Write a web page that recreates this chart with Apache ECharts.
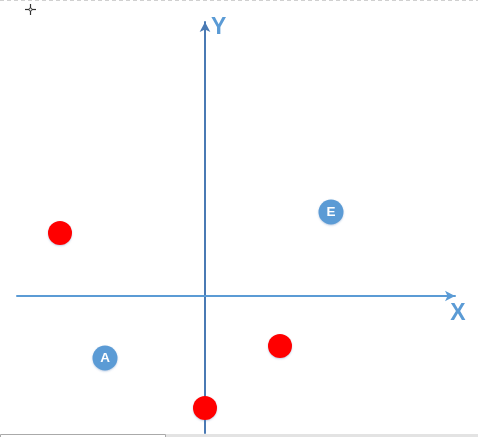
<!DOCTYPE html>
<html>
<head>
<meta charset="utf-8">
<script src="https://cdn.jsdelivr.net/npm/echarts@6/dist/echarts.min.js"></script>
<style>
html,body{margin:0;padding:0;background:#fff;}
#c{width:478px;height:437px;}
</style>
</head>
<body>
<div id="c"></div>
<script>
// Data (units relative to the axis origin)
const redPoints = [[-14.5, 6.3], [7.5, -5.0], [0, -11.2]];
const labelNames = ['A', 'E'];
const labelPoints = [[-10.0, -6.2], [12.6, 8.4]];
const xRange = [-18.8, 25];
const yRange = [-13.7, 27.4];

const chart = echarts.init(document.getElementById('c'), null, {renderer: 'canvas'});
const blueData = labelPoints.map((p, i) => ({name: labelNames[i], value: p}));
chart.setOption({
  animation: false,
  backgroundColor: '#ffffff',
  grid: {left: 17, right: 23, top: 22, bottom: 4},
  xAxis: {
    type: 'value', min: xRange[0], max: xRange[1],
    axisLine: {onZero: true, lineStyle: {color: '#5b9bd5', width: 2}, symbol: ['none', 'arrow'], symbolSize: [8, 10]},
    axisTick: {show: false}, axisLabel: {show: false}, splitLine: {show: false},
    name: 'X', nameLocation: 'end', nameGap: 3,
    nameTextStyle: {color: '#5b9bd5', fontSize: 23, fontWeight: 'bold', fontFamily: 'Liberation Sans, Arial, sans-serif', align: 'center', verticalAlign: 'top', padding: [6, 0, 0, 0]}
  },
  yAxis: {
    type: 'value', min: yRange[0], max: yRange[1],
    axisLine: {onZero: true, lineStyle: {color: '#4a7ab4', width: 2}, symbol: ['none', 'arrow'], symbolSize: [8, 10]},
    axisTick: {show: false}, axisLabel: {show: false}, splitLine: {show: false},
    name: 'Y', nameLocation: 'end', nameGap: -6,
    nameTextStyle: {color: '#5b9bd5', fontSize: 23, fontWeight: 'bold', fontFamily: 'Liberation Sans, Arial, sans-serif', align: 'left', verticalAlign: 'middle', padding: [0, 0, 0, 6]}
  },
  graphic: [
    {type: 'line', shape: {x1: 0, y1: 0.5, x2: 478, y2: 0.5}, style: {stroke: '#d0d0d0', lineWidth: 1, lineDash: [4, 3]}},
    {type: 'rect', shape: {x: 165, y: 434, width: 313, height: 3}, style: {fill: '#e3e3e3'}},
    {type: 'rect', shape: {x: 0.5, y: 434.5, width: 165, height: 4}, style: {fill: '#fff', stroke: '#aaaaaa', lineWidth: 1}},
    {type: 'line', shape: {x1: 25, y1: 9.5, x2: 36, y2: 9.5}, style: {stroke: '#333', lineWidth: 1.2}},
    {type: 'line', shape: {x1: 30.5, y1: 4, x2: 30.5, y2: 15}, style: {stroke: '#333', lineWidth: 1.2}},
    {type: 'circle', shape: {cx: 30.5, cy: 9.5, r: 1.5}, style: {fill: '#fff', stroke: '#333', lineWidth: 1}}
  ],
  series: [
    {
      type: 'scatter', data: redPoints, symbolSize: 24,
      itemStyle: {color: '#ff0000', opacity: 1, shadowBlur: 2, shadowColor: 'rgba(80,120,180,0.35)', shadowOffsetY: 1},
      z: 5
    },
    {
      type: 'scatter', data: blueData, symbolSize: 25,
      itemStyle: {color: '#5b9bd5', opacity: 1, shadowBlur: 2, shadowColor: 'rgba(80,120,180,0.35)', shadowOffsetY: 1},
      label: {show: true, position: 'inside', formatter: '{b}', color: '#fff', fontSize: 13.5, fontWeight: 'bold', fontFamily: 'Liberation Sans, Arial, sans-serif'},
      z: 5
    }
  ]
});
</script>
</body>
</html>
